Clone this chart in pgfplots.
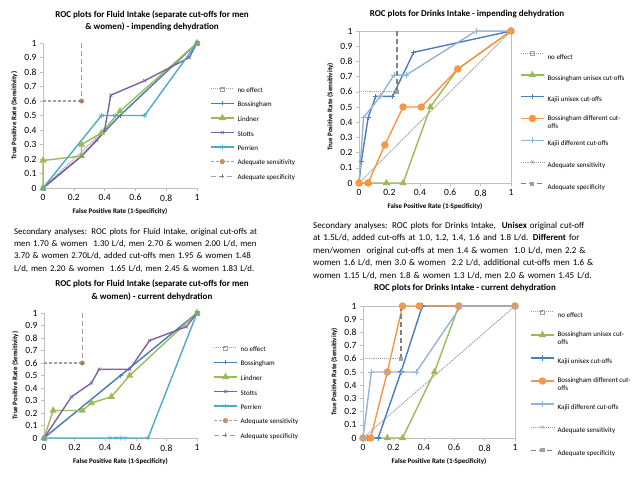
\documentclass[border=0pt]{standalone}
\usepackage{pgfplots}
\pgfplotsset{compat=1.18}
\usepackage{fontspec}
\setmainfont{Carlito}
\definecolor{cblue}{HTML}{4A7EBB}
\definecolor{cgreen}{HTML}{9BBB59}
\definecolor{cpurple}{HTML}{7E61A1}
\definecolor{cteal}{HTML}{4BACC6}
\definecolor{corange}{HTML}{F79646}
\definecolor{clblue}{HTML}{95B3D7}
\definecolor{cgray}{HTML}{A0A0A0}
\definecolor{cdgray}{HTML}{7F7F7F}
\definecolor{caxis}{HTML}{BFBFBF}
\definecolor{cbrown}{HTML}{C4906A}

\newcommand{\fl}[1]{\parbox[c][12pt][c]{100pt}{\raggedright #1}}
\newcommand{\dl}[1]{\parbox[c][20pt][c]{100pt}{\raggedright #1}}

\pgfplotsset{
  roc/.style={
    scale only axis, clip=false,
    xmin=0,xmax=1,ymin=0,ymax=1,
    xtick={0,0.2,0.4,0.6,0.8,1},
    ytick={0,0.1,0.2,0.3,0.4,0.5,0.6,0.7,0.8,0.9,1},
    tick align=outside,
    major tick length=3pt,
    tick style={caxis, thin},
    /pgf/number format/assume math mode=true,
    ticklabel style={font=\fontsize{9.5}{10}\selectfont, text=black},
    label style={font=\bfseries\fontsize{7}{8}\selectfont},
    xlabel={False Positive Rate (1-Specificity)},
    ylabel={True Positive Rate (Sensitivity)},
    legend style={draw=none, fill=none, anchor=north west, font=\fontsize{7}{8}\selectfont, inner sep=0pt, column sep=2pt, nodes={inner sep=1pt}},
    legend cell align=left,
    legend image code/.code={\draw[mark repeat=2,mark phase=2] plot coordinates {(0pt,0pt)(11.5pt,0pt)(23pt,0pt)};},
  },
  fluid/.style={roc, axis lines*=left, axis line style={caxis,-}, legend style={row sep=3.3pt}},
  drinks/.style={roc, axis line style={caxis}, xtick pos=left, ytick pos=left, legend style={row sep=6.5pt}},
  ln/.style={line width=1.4pt},
  noeff/.style={cgray, line width=1.1pt, densely dotted, mark=square, mark size=2pt, mark options={solid, fill=white, draw=cgray, line width=0.6pt}},
  sensF/.style={cgray, line width=1.1pt, dash pattern=on 3pt off 2pt, mark=*, mark size=2pt, mark indices={2}, mark options={solid, fill=cbrown, draw=cbrown}},
  specF/.style={cgray, line width=1.1pt, dash pattern=on 5pt off 3pt, mark=+, mark size=2pt, mark indices={2}, mark options={solid, draw=cdgray, line width=0.6pt}},
  sensD/.style={cgray, line width=0.9pt, densely dotted, mark=x, mark size=2pt, mark indices={2}, mark options={solid, draw=cgray, line width=0.6pt}},
  specD/.style={cdgray, line width=1.1pt, dash pattern=on 5pt off 3pt, mark=square*, mark size=1.5pt, mark indices={2}, mark options={solid, fill=cgray, draw=cgray}},
  bossF/.style={cblue, ln, mark=+, mark size=2pt, mark options={line width=0.6pt}},
  lind/.style={cgreen, ln, mark=triangle*, mark size=2.8pt},
  stot/.style={cpurple, ln, mark=x, mark size=2.3pt, mark options={line width=0.5pt}},
  perr/.style={cteal, ln, mark=asterisk, mark size=2.5pt, mark options={line width=0.5pt}},
  bossU/.style={cgreen, ln, mark=triangle*, mark size=2.8pt},
  kajU/.style={cblue, ln, mark=+, mark size=2.6pt, mark options={line width=1.2pt}},
  bossD/.style={corange, ln, mark=*, mark size=3pt},
  kajD/.style={clblue, ln, mark=+, mark size=3pt, mark options={line width=0.7pt}},
}

\begin{document}
\begin{tikzpicture}
\path[use as bounding box] (0pt,0pt) rectangle (640pt,-480pt);

% ---------- top-left ----------
\node[font=\bfseries\fontsize{9}{12.4}\selectfont, align=center] at (152pt,-21pt)
  {ROC plots for Fluid Intake (separate cut-offs for men\\ \& women) - impending dehydration};
\begin{axis}[fluid, at={(43pt,-188pt)}, anchor=south west, width=154pt, height=145pt,
  legend style={at={(axis description cs:1.084,0.724)}}]
\addplot[noeff] coordinates {(0,0) (1,1)};
\addplot[bossF] coordinates {(0,0) (0.25,0.22) (0.5,0.5) (1,1)};
\addplot[lind] coordinates {(0,0) (0,0.19) (0.25,0.22) (0.25,0.30) (0.38,0.38) (0.5,0.53) (1,1)};
\addplot[stot] coordinates {(0,0) (0.25,0.22) (0.35,0.33) (0.40,0.40) (0.44,0.64) (0.66,0.74) (0.95,0.90) (1,1)};
\addplot[perr] coordinates {(0,0) (0.38,0.5) (0.47,0.5) (0.66,0.5) (1,1)};
\addplot[sensF] coordinates {(0,0.6) (0.25,0.6)};
\addplot[specF] coordinates {(0.25,1) (0.25,0.6)};
\legend{\fl{no effect},\fl{Bossingham},\fl{Lindner},\fl{Stotts},\fl{Perrien},\fl{Adequate sensitivity},\fl{Adequate specificity}}
\end{axis}

% ---------- top-right ----------
\node[font=\bfseries\fontsize{9}{12.4}\selectfont, align=center] at (467pt,-14pt)
  {ROC plots for Drinks Intake - impending dehydration};
\begin{axis}[drinks, at={(359pt,-183pt)}, anchor=south west, width=152pt, height=152pt,
  legend style={at={(axis description cs:1.059,0.905)}}]
\addplot[noeff] coordinates {(0,0) (1,1)};
\addplot[bossU] coordinates {(0,0) (0.06,0) (0.18,0) (0.29,0) (0.47,0.5) (0.65,0.75) (1,1)};
\addplot[kajU] coordinates {(0,0) (0.015,0.14) (0.06,0.43) (0.11,0.57) (0.22,0.57) (0.36,0.86) (1,1)};
\addplot[bossD] coordinates {(0,0) (0.06,0) (0.17,0.25) (0.29,0.5) (0.41,0.5) (0.65,0.75) (1,1)};
\addplot[kajD] coordinates {(0,0) (0.03,0.43) (0.14,0.57) (0.23,0.71) (0.31,0.71) (0.77,1) (1,1)};
\addplot[sensD] coordinates {(0,0.6) (0.25,0.6)};
\addplot[specD] coordinates {(0.25,1) (0.25,0.6)};
\legend{\dl{no effect},\dl{Bossingham unisex cut-offs},\dl{Kajii unisex cut-offs},\dl{Bossingham different cut-\\offs},\dl{Kajii different cut-offs},\dl{Adequate sensitivity},\dl{Adequate specificity}}
\end{axis}

% ---------- paragraphs ----------
\node[anchor=base west, text width=300pt, align=left, inner sep=0pt, font=\fontsize{8.8}{12.4}\selectfont] at (14pt,-234pt)
  {Secondary analyses: ROC plots for Fluid Intake, original cut-offs at\\
   men 1.70 \& women~ 1.30 L/d, men 2.70 \& women 2.00 L/d, men\\
   3.70 \& women 2.70L/d, added cut-offs men 1.95 \& women 1.48\\
   L/d, men 2.20 \& women~ 1.65 L/d, men 2.45 \& women 1.83 L/d.};
\node[anchor=base west, text width=330pt, align=left, inner sep=0pt, font=\fontsize{9}{12.5}\selectfont] at (313pt,-228pt)
  {Secondary analyses: ROC plots for Drinks Intake, ~\textbf{Unisex} original cut-off\\
   at 1.5L/d, added cut-offs at 1.0, 1.2, 1.4, 1.6 and 1.8 L/d. \textbf{Different} for\\
   men/women~ original cut-offs at men 1.4 \& women~ 1.0 L/d, men 2.2 \&\\
   women 1.6 L/d, men 3.0 \& women~ 2.2 L/d, additional cut-offs men 1.6 \&\\
   women 1.15 L/d, men 1.8 \& women 1.3 L/d, men 2.0 \& women 1.45 L/d.};

% ---------- bottom-left ----------
\node[font=\bfseries\fontsize{9}{12.4}\selectfont, align=center] at (152pt,-290.5pt)
  {ROC plots for Fluid Intake (separate cut-offs for men\\ \& women) - current dehydration};
\begin{axis}[fluid, at={(44pt,-438pt)}, anchor=south west, width=153pt, height=125pt,
  legend style={at={(axis description cs:1.105,0.768)}}]
\addplot[noeff] coordinates {(0,0) (1,1)};
\addplot[bossF] coordinates {(0,0) (0.5,0.5) (1,1)};
\addplot[lind] coordinates {(0,0) (0.06,0.22) (0.25,0.22) (0.31,0.28) (0.44,0.33) (0.56,0.5) (1,1)};
\addplot[stot] coordinates {(0,0) (0.18,0.33) (0.31,0.44) (0.36,0.55) (0.56,0.55) (0.69,0.78) (0.93,0.89) (1,1)};
\addplot[perr] coordinates {(0,0) (0.43,0) (0.47,0) (0.5,0) (0.53,0) (0.68,0) (1,1)};
\addplot[sensF] coordinates {(0,0.6) (0.25,0.6)};
\addplot[specF] coordinates {(0.25,1) (0.25,0.6)};
\legend{\fl{no effect},\fl{Bossingham},\fl{Lindner},\fl{Stotts},\fl{Perrien},\fl{Adequate sensitivity},\fl{Adequate specificity}}
\end{axis}

% ---------- bottom-right ----------
\node[font=\bfseries\fontsize{9}{12.4}\selectfont, align=center] at (465pt,-288pt)
  {ROC plots for Drinks Intake - current dehydration};
\begin{axis}[drinks, at={(363pt,-438pt)}, anchor=south west, width=152pt, height=132pt,
  legend style={at={(axis description cs:1.099,1.015)}, row sep=7.8pt}]
\addplot[noeff] coordinates {(0,0) (1,1)};
\addplot[bossU] coordinates {(0,0) (0.05,0) (0.16,0) (0.26,0) (0.47,0.5) (0.63,1) (1,1)};
\addplot[kajU] coordinates {(0,0) (0.03,0) (0.1,0) (0.25,0.5) (0.39,1) (1,1)};
\addplot[bossD] coordinates {(0,0) (0.05,0) (0.16,0.5) (0.26,1) (0.37,1) (0.63,1) (1,1)};
\addplot[kajD] coordinates {(0,0) (0.055,0.5) (0.16,0.5) (0.25,0.5) (0.35,0.5) (0.645,1) (1,1)};
\addplot[sensD] coordinates {(0,0.6) (0.25,0.6)};
\addplot[specD] coordinates {(0.25,1) (0.25,0.6)};
\legend{\dl{no effect},\dl{Bossingham unisex cut-\\offs},\dl{Kajii unisex cut-offs},\dl{Bossingham different cut-\\offs},\dl{Kajii different cut-offs},\dl{Adequate sensitivity},\dl{Adequate specificity}}
\end{axis}
\end{tikzpicture}
\end{document}
